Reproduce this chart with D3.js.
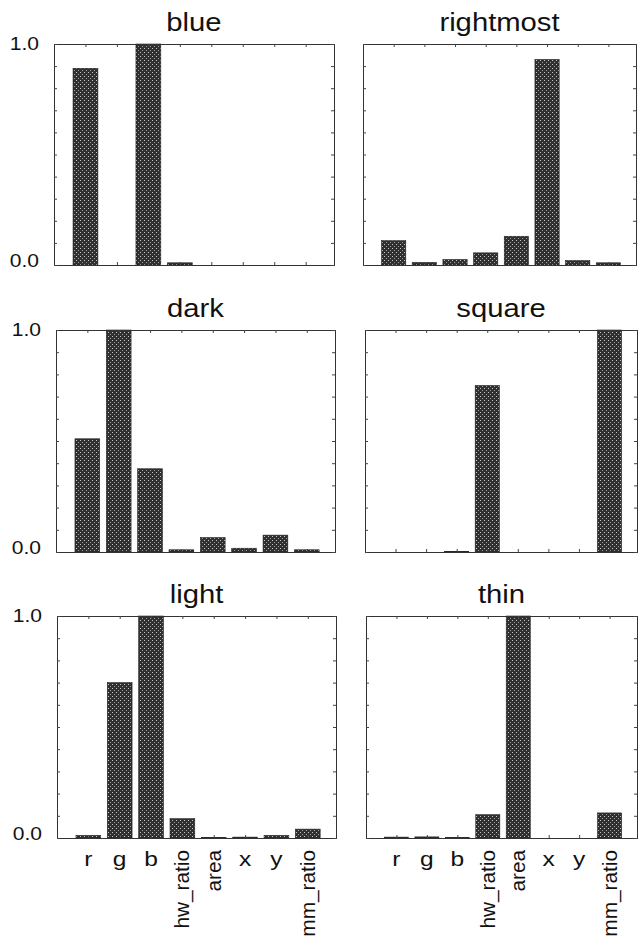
<!DOCTYPE html>
<html>
<head>
<meta charset="utf-8">
<script src="https://cdn.jsdelivr.net/npm/d3@7"></script>
<style>
  body { margin: 0; background: #fff; }
  svg text { font-family: "Liberation Sans", Arial, sans-serif; fill: #111; }
</style>
</head>
<body>
<div id="chart"></div>
<script>
// DATA
const features = ["r", "g", "b", "hw_ratio", "area", "x", "y", "mm_ratio"];
const titles = ["blue", "rightmost", "dark", "square", "light", "thin"];
const yTickLabels = ["0.0", "1.0"];

const blueValues      = [0.89, 0, 1.0, 0.01, 0, 0, 0, 0];
const rightmostValues = [0.11, 0.012, 0.025, 0.055, 0.13, 0.93, 0.02, 0.01];
const darkValues      = [0.51, 1.0, 0.375, 0.01, 0.065, 0.017, 0.076, 0.01];
const squareValues    = [0, 0, 0.003, 0.75, 0, 0, 0, 1.0];
const lightValues     = [0.012, 0.70, 1.0, 0.087, 0.002, 0.004, 0.012, 0.04];
const thinValues      = [0.004, 0.005, 0.002, 0.105, 1.0, 0, 0, 0.113];

const allValues = [blueValues, rightmostValues, darkValues, squareValues, lightValues, thinValues];

// LAYOUT (panel frames, left/right column, three rows)
const W = 638, H = 945;
const panels = [
  { x0: 54, x1: 334, y0: 44,  y1: 265 },
  { x0: 363, x1: 636, y0: 44,  y1: 265 },
  { x0: 56, x1: 335, y0: 330, y1: 552 },
  { x0: 365, x1: 637, y0: 330, y1: 552 },
  { x0: 57, x1: 336, y0: 616, y1: 838 },
  { x0: 366, x1: 637, y0: 616, y1: 838 }
];
const stretch = 1.17; // the original font is wider than Liberation Sans

const svg = d3.select("#chart")
  .append("svg")
  .attr("width", W)
  .attr("height", H);

// stippled fill for the bars
const pat = svg.append("defs").append("pattern")
  .attr("id", "stipple")
  .attr("patternUnits", "userSpaceOnUse")
  .attr("width", 4)
  .attr("height", 4);
pat.append("rect").attr("width", 4).attr("height", 4).attr("fill", "#303030");
pat.append("rect").attr("x", 0).attr("y", 0).attr("width", 1).attr("height", 1).attr("fill", "#c8c8c8");
pat.append("rect").attr("x", 2).attr("y", 2).attr("width", 1).attr("height", 1).attr("fill", "#a0a0a0");

allValues.forEach((values, p) => {
  const box = panels[p];
  const col = p % 2;
  const row = Math.floor(p / 2);

  const x = d3.scaleLinear().domain([0, 8.9]).range([box.x0, box.x1]);
  const y = d3.scaleLinear().domain([0, 1]).range([box.y1, box.y0]);
  const step = x(1) - x(0);
  const barW = step * 0.79;

  const g = svg.append("g");

  // bars
  g.selectAll("rect.bar")
    .data(values)
    .enter()
    .append("rect")
    .attr("class", "bar")
    .attr("x", (d, i) => x(i + 1) - barW / 2)
    .attr("width", barW)
    .attr("y", d => y(d))
    .attr("height", d => y(0) - y(d))
    .attr("fill", "url(#stipple)")
    .attr("stroke", "#222")
    .attr("stroke-width", 0.6);

  // inward ticks on all four sides
  const xTicks = d3.range(1, 9);
  const yTicks = d3.range(0, 11).map(d => d / 10);

  g.append("g")
    .attr("transform", `translate(0,${box.y0})`)
    .call(d3.axisTop(x).tickValues(xTicks).tickSize(-3).tickFormat(""));
  g.append("g")
    .attr("transform", `translate(0,${box.y1})`)
    .call(d3.axisBottom(x).tickValues(xTicks).tickSize(-3).tickFormat(""));
  g.append("g")
    .attr("transform", `translate(${box.x0},0)`)
    .call(d3.axisLeft(y).tickValues(yTicks).tickSize(-3).tickFormat(""));
  g.append("g")
    .attr("transform", `translate(${box.x1},0)`)
    .call(d3.axisRight(y).tickValues(yTicks).tickSize(-3).tickFormat(""));

  g.selectAll(".domain").attr("stroke", "#333").attr("stroke-width", 1);
  g.selectAll(".tick line").attr("stroke", "#444").attr("stroke-width", 1);

  // title
  const cx = (box.x0 + box.x1) / 2;
  g.append("text")
    .attr("transform", `translate(${cx},${box.y0 - 13}) scale(${stretch},1)`)
    .attr("text-anchor", "middle")
    .attr("font-size", 25)
    .text(titles[p]);

  // y labels on the left column only
  if (col === 0) {
    g.selectAll("text.ylab")
      .data(yTickLabels)
      .enter()
      .append("text")
      .attr("class", "ylab")
      .attr("transform", (d, i) => `translate(${box.x0 - 15},${y(+d) + (i === 0 ? -4 : 0)}) scale(${stretch},1)`)
      .attr("text-anchor", "end")
      .attr("dy", "0.35em")
      .attr("font-size", 18)
      .text(d => d);
  }

  // x labels on the bottom row only
  if (row === 2) {
    features.forEach((f, i) => {
      const bx = x(i + 1);
      if (f.length === 1) {
        g.append("text")
          .attr("transform", `translate(${bx},${box.y1 + 28}) scale(${stretch},1)`)
          .attr("text-anchor", "middle")
          .attr("font-size", 21)
          .text(f);
      } else {
        g.append("text")
          .attr("transform", `translate(${bx},${box.y1 + 12}) rotate(-90) scale(1.04,1)`)
          .attr("text-anchor", "end")
          .attr("dy", "0.35em")
          .attr("font-size", 20)
          .text(f);
      }
    });
  }
});
</script>
</body>
</html>
